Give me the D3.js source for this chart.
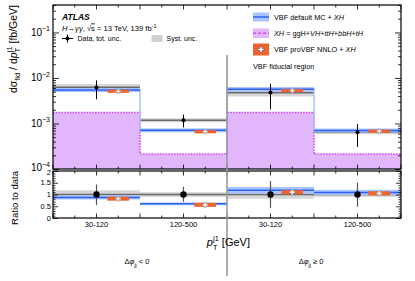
<!DOCTYPE html>
<html>
<head>
<meta charset="utf-8">
<script src="https://cdn.jsdelivr.net/npm/d3@7"></script>
<style>
body { margin: 0; background: #fff; }
text { font-family: "Liberation Sans", Arial, sans-serif; fill: #000; }
</style>
</head>
<body>
<svg id="chart" width="415" height="281"></svg>
<script>
// bins: pT(j1) ranges, two halves for dphi_jj < 0 and >= 0
var bins = ["30-120", "120-500", "30-120", "120-500"];
var dphiLabels = ["< 0", "\u2265 0"];

// measured cross sections [fb/GeV]
var dataVal  = [0.0062, 0.00118, 0.00477, 0.000645];
var dataUp   = [0.00886, 0.00157, 0.0075, 0.00097];
var dataDown = [0.0034, 0.00082, 0.00206, 0.000307];
var systRel  = [0.18, 0.10, 0.18, 0.10];

// predictions
var vbfDefault = [0.00544, 0.00071, 0.00563, 0.000703];
var vbfRel     = [0.10, 0.10, 0.12, 0.10];
var proVBF     = [0.0051, 0.00066, 0.00525, 0.000677];
var xhVal      = [0.00174, 0.000213, 0.00174, 0.000213];

var logTicks = [1e-4, 1e-3, 1e-2, 1e-1];
var logExp = ["\u22124", "\u22123", "\u22122", "\u22121"];
var ratioTicks = [0, 0.5, 1, 1.5, 2];

var svg = d3.select("#chart");

var x = d3.scaleLinear().domain([0, 4]).range([53, 401]);
var y = d3.scaleLog().domain([1e-4, 0.4]).range([169, 5]);
var yr = d3.scaleLinear().domain([0, 2]).range([218, 171]);

var blueDark = "#2b63f5", blueLight = "#a9c3ff";
var orange = "#f2622f", purpleFill = "#e2b6fb", purpleLine = "#c94cff";
var systCol = "#d6d6d6", dataLine = "#6a6a6a";

var idx = d3.range(bins.length);

// ---------- upper panel ----------
var upper = svg.append("g");

// XH background (filled histogram with dotted outline)
var stepPts = [];
idx.forEach(function (i) { stepPts.push([i, xhVal[i]]); stepPts.push([i + 1, xhVal[i]]); });
upper.append("path")
    .datum(stepPts)
    .attr("fill", purpleFill)
    .attr("d", d3.area().x(function (d) { return x(d[0]); }).y0(y(1e-4)).y1(function (d) { return y(d[1]); }));
upper.append("path")
    .datum(stepPts)
    .attr("fill", "none")
    .attr("stroke", purpleLine)
    .attr("stroke-width", 1.6)
    .attr("stroke-dasharray", "1.6,1.2")
    .attr("d", d3.line().x(function (d) { return x(d[0]); }).y(function (d) { return y(d[1]); }));

// syst band + data line
upper.selectAll(".syst").data(idx).enter().append("rect")
    .attr("x", function (i) { return x(i); })
    .attr("width", function (i) { return x(i + 1) - x(i); })
    .attr("y", function (i) { return y(dataVal[i] * (1 + systRel[i])); })
    .attr("height", function (i) { return y(dataVal[i] * (1 - systRel[i])) - y(dataVal[i] * (1 + systRel[i])); })
    .attr("fill", systCol);
upper.selectAll(".dline").data(idx).enter().append("line")
    .attr("x1", function (i) { return x(i); })
    .attr("x2", function (i) { return x(i + 1); })
    .attr("y1", function (i) { return y(dataVal[i]); })
    .attr("y2", function (i) { return y(dataVal[i]); })
    .attr("stroke", dataLine).attr("stroke-width", 1.6);

// VBF default band + step line
upper.selectAll(".vband").data(idx).enter().append("rect")
    .attr("x", function (i) { return x(i); })
    .attr("width", function (i) { return x(i + 1) - x(i); })
    .attr("y", function (i) { return y(vbfDefault[i] * (1 + vbfRel[i])); })
    .attr("height", function (i) { return y(vbfDefault[i] * (1 - vbfRel[i])) - y(vbfDefault[i] * (1 + vbfRel[i])); })
    .attr("fill", blueLight);
var vbfPts = [];
idx.forEach(function (i) { vbfPts.push([i, vbfDefault[i]]); vbfPts.push([i + 1, vbfDefault[i]]); });
upper.append("path").datum(vbfPts)
    .attr("fill", "none").attr("stroke", blueLight).attr("stroke-width", 1.5)
    .attr("d", d3.line().x(function (d) { return x(d[0]); }).y(function (d) { return y(d[1]); }));
upper.selectAll(".vline").data(idx).enter().append("line")
    .attr("x1", function (i) { return x(i); })
    .attr("x2", function (i) { return x(i + 1); })
    .attr("y1", function (i) { return y(vbfDefault[i]); })
    .attr("y2", function (i) { return y(vbfDefault[i]); })
    .attr("stroke", blueDark).attr("stroke-width", 1.5);

// proVBF
upper.selectAll(".pro").data(idx).enter().append("rect")
    .attr("x", function (i) { return x(i + 0.625); })
    .attr("width", function (i) { return x(i + 0.875) - x(i + 0.625); })
    .attr("y", function (i) { return y(proVBF[i]) - 1.6; })
    .attr("height", 3.2)
    .attr("fill", orange);
upper.selectAll(".prom").data(idx).enter().append("path")
    .attr("transform", function (i) { return "translate(" + x(i + 0.75) + "," + y(proVBF[i]) + ")"; })
    .attr("d", d3.symbol().type(d3.symbolCross).size(14))
    .attr("fill", "#fff").attr("stroke", "#888").attr("stroke-width", 0.5);

// data points
upper.selectAll(".err").data(idx).enter().append("line")
    .attr("x1", function (i) { return x(i + 0.5); })
    .attr("x2", function (i) { return x(i + 0.5); })
    .attr("y1", function (i) { return y(dataUp[i]); })
    .attr("y2", function (i) { return y(dataDown[i]); })
    .attr("stroke", "#000").attr("stroke-width", 1);
upper.selectAll(".pt").data(idx).enter().append("circle")
    .attr("cx", function (i) { return x(i + 0.5); })
    .attr("cy", function (i) { return y(dataVal[i]); })
    .attr("r", 2).attr("fill", "#000");

// ---------- ratio panel ----------
var lower = svg.append("g");
lower.selectAll(".rsyst").data(idx).enter().append("rect")
    .attr("x", function (i) { return x(i); })
    .attr("width", function (i) { return x(i + 1) - x(i); })
    .attr("y", function (i) { return yr(1 + systRel[i]); })
    .attr("height", function (i) { return yr(1 - systRel[i]) - yr(1 + systRel[i]); })
    .attr("fill", systCol);
lower.selectAll(".rdline").data(idx).enter().append("line")
    .attr("x1", function (i) { return x(i); })
    .attr("x2", function (i) { return x(i + 1); })
    .attr("y1", yr(1)).attr("y2", yr(1))
    .attr("stroke", dataLine).attr("stroke-width", 1.5);
lower.selectAll(".rvband").data(idx).enter().append("rect")
    .attr("x", function (i) { return x(i); })
    .attr("width", function (i) { return x(i + 1) - x(i); })
    .attr("y", function (i) { return yr(vbfDefault[i] / dataVal[i] * (1 + vbfRel[i])); })
    .attr("height", function (i) { return yr(vbfDefault[i] / dataVal[i] * (1 - vbfRel[i])) - yr(vbfDefault[i] / dataVal[i] * (1 + vbfRel[i])); })
    .attr("fill", blueLight);
lower.selectAll(".rvline").data(idx).enter().append("line")
    .attr("x1", function (i) { return x(i); })
    .attr("x2", function (i) { return x(i + 1); })
    .attr("y1", function (i) { return yr(vbfDefault[i] / dataVal[i]); })
    .attr("y2", function (i) { return yr(vbfDefault[i] / dataVal[i]); })
    .attr("stroke", blueDark).attr("stroke-width", 1.5);
lower.selectAll(".rpro").data(idx).enter().append("rect")
    .attr("x", function (i) { return x(i + 0.625); })
    .attr("width", function (i) { return x(i + 0.875) - x(i + 0.625); })
    .attr("y", function (i) { return yr(proVBF[i] / dataVal[i]) - 2; })
    .attr("height", 4)
    .attr("fill", orange);
lower.selectAll(".rprom").data(idx).enter().append("path")
    .attr("transform", function (i) { return "translate(" + x(i + 0.75) + "," + yr(proVBF[i] / dataVal[i]) + ")"; })
    .attr("d", d3.symbol().type(d3.symbolCross).size(16))
    .attr("fill", "#fff").attr("stroke", "#888").attr("stroke-width", 0.5);
lower.selectAll(".rerr").data(idx).enter().append("line")
    .attr("x1", function (i) { return x(i + 0.5); })
    .attr("x2", function (i) { return x(i + 0.5); })
    .attr("y1", function (i) { return yr(dataUp[i] / dataVal[i]); })
    .attr("y2", function (i) { return yr(dataDown[i] / dataVal[i]); })
    .attr("stroke", "#555").attr("stroke-width", 1.2);
lower.selectAll(".rpt").data(idx).enter().append("circle")
    .attr("cx", function (i) { return x(i + 0.5); })
    .attr("cy", yr(1))
    .attr("r", 3.2).attr("fill", "#000");

// ---------- axes / frames ----------
function xTicks(g, yPos, dir) {
    var major = [], minor = [];
    for (var k = 0; k <= 16; k++) {
        if (k % 2 == 0) major.push(k / 4); else minor.push(k / 4);
    }
    g.selectAll(null).data(major).enter().append("line")
        .attr("x1", function (d) { return x(d); }).attr("x2", function (d) { return x(d); })
        .attr("y1", yPos).attr("y2", yPos + dir * 4.5)
        .attr("stroke", "#000").attr("stroke-width", 0.8);
    g.selectAll(null).data(minor).enter().append("line")
        .attr("x1", function (d) { return x(d); }).attr("x2", function (d) { return x(d); })
        .attr("y1", yPos).attr("y2", yPos + dir * 2.5)
        .attr("stroke", "#000").attr("stroke-width", 0.8);
}
var axG = svg.append("g");
xTicks(axG, 5, 1); xTicks(axG, 169, -1);
xTicks(axG, 171, 1); xTicks(axG, 218, -1);

// log y ticks (left and right, inward)
var majorLog = logTicks, minorLog = [];
[1e-4, 1e-3, 1e-2, 1e-1].forEach(function (b) {
    for (var m = 2; m <= 9; m++) if (b * m <= 0.4) minorLog.push(b * m);
});
axG.append("g").attr("transform", "translate(53,0)")
    .call(d3.axisRight(y).tickValues(majorLog).tickSize(6).tickFormat(""));
axG.append("g").attr("transform", "translate(53,0)")
    .call(d3.axisRight(y).tickValues(minorLog).tickSize(3).tickFormat(""));
axG.append("g").attr("transform", "translate(401,0)")
    .call(d3.axisLeft(y).tickValues(majorLog).tickSize(6).tickFormat(""));
axG.append("g").attr("transform", "translate(401,0)")
    .call(d3.axisLeft(y).tickValues(minorLog).tickSize(3).tickFormat(""));

var ratioMinor = d3.range(0, 2.01, 0.1).filter(function (v) { return Math.abs(v * 2 - Math.round(v * 2)) > 0.01; });
axG.append("g").attr("transform", "translate(53,0)")
    .call(d3.axisRight(yr).tickValues(ratioTicks).tickSize(5).tickFormat(""));
axG.append("g").attr("transform", "translate(53,0)")
    .call(d3.axisRight(yr).tickValues(ratioMinor).tickSize(2.5).tickFormat(""));
axG.append("g").attr("transform", "translate(401,0)")
    .call(d3.axisLeft(yr).tickValues(ratioTicks).tickSize(5).tickFormat(""));
axG.append("g").attr("transform", "translate(401,0)")
    .call(d3.axisLeft(yr).tickValues(ratioMinor).tickSize(2.5).tickFormat(""));
axG.selectAll(".domain").remove();
axG.selectAll(".tick line").attr("stroke-width", 0.8);

// frames
svg.append("rect").attr("x", 53).attr("y", 5).attr("width", 348).attr("height", 164)
    .attr("fill", "none").attr("stroke", "#000").attr("stroke-width", 1.2);
svg.append("rect").attr("x", 53).attr("y", 171).attr("width", 348).attr("height", 47)
    .attr("fill", "none").attr("stroke", "#000").attr("stroke-width", 1.2);

// separator line between dphi regions
svg.append("line").attr("x1", x(2)).attr("x2", x(2)).attr("y1", 55).attr("y2", 276)
    .attr("stroke", "#9a9a9a").attr("stroke-width", 1.6);

// y tick labels
logTicks.forEach(function (v, k) {
    var t = svg.append("text").attr("x", 50).attr("y", y(v) + 3.5 - (k == 0 ? 1.5 : 0))
        .attr("text-anchor", "end").attr("font-size", 10);
    t.append("tspan").text("10");
    t.append("tspan").attr("dy", -4.5).attr("font-size", 7).text(logExp[k]);
});
ratioTicks.forEach(function (v) {
    svg.append("text").attr("x", 51).attr("y", yr(v) + 2.6 + (v == 2 ? 1 : 0))
        .attr("text-anchor", "end").attr("font-size", 7.5).text(v);
});

// x tick labels
idx.forEach(function (i) {
    svg.append("text").attr("x", x(i + 0.5)).attr("y", 227)
        .attr("text-anchor", "middle").attr("font-size", 7.5).text(bins[i]);
});

// axis titles
var xt = svg.append("text").attr("x", 250).attr("y", 246).attr("text-anchor", "end").attr("font-size", 11);
xt.append("tspan").attr("font-style", "italic").text("p");
xt.append("tspan").attr("font-size", 7.5).attr("dy", 3.5).text("T");
xt.append("tspan").attr("font-size", 7.5).attr("dx", -4.5).attr("dy", -9).text("j1");
xt.append("tspan").attr("dy", 5.5).text("  [GeV]");

var yt = svg.append("text").attr("transform", "translate(17,5) rotate(-90)")
    .attr("text-anchor", "end").attr("font-size", 10.5);
yt.append("tspan").text("d\u03c3");
yt.append("tspan").attr("font-size", 7.5).attr("dy", 3).text("fid");
yt.append("tspan").attr("dy", -3).text(" / d");
yt.append("tspan").attr("font-style", "italic").text("p");
yt.append("tspan").attr("font-size", 7.5).attr("dy", 3).text("T");
yt.append("tspan").attr("font-size", 7.5).attr("dx", -4.5).attr("dy", -8.5).text("j1");
yt.append("tspan").attr("dy", 5.5).text(" [fb/GeV]");

svg.append("text").attr("transform", "translate(18,171) rotate(-90)")
    .attr("text-anchor", "end").attr("font-size", 9.5).text("Ratio to data");

// dphi region labels
dphiLabels.forEach(function (lab, k) {
    var t = svg.append("text").attr("x", x(2 * k + 1) - 3).attr("y", 264)
        .attr("text-anchor", "middle").attr("font-size", 7.5);
    t.append("tspan").text("\u0394");
    t.append("tspan").attr("font-style", "italic").text("\u03c6");
    t.append("tspan").attr("font-size", 5).attr("dy", 3).text("jj");
    t.append("tspan").attr("dy", -3).text(" " + lab);
});

// ---------- legend ----------
var lg = svg.append("g");
lg.append("text").attr("x", 62).attr("y", 19.5).attr("font-size", 8.5)
    .attr("font-weight", "bold").attr("font-style", "italic").text("ATLAS");
var l2 = lg.append("text").attr("x", 62).attr("y", 30.5).attr("font-size", 7.6);
l2.append("tspan").attr("font-style", "italic").text("H");
l2.append("tspan").text("\u2192");
l2.append("tspan").attr("font-style", "italic").text("\u03b3\u03b3");
l2.append("tspan").text(", \u221a");
l2.append("tspan").style("text-decoration", "overline").text("s");
l2.append("tspan").text(" = 13 TeV, 139 fb");
l2.append("tspan").attr("font-size", 5.5).attr("dy", -3).text("-1");

lg.append("line").attr("x1", 62).attr("x2", 73).attr("y1", 38.5).attr("y2", 38.5).attr("stroke", "#000");
lg.append("line").attr("x1", 67.5).attr("x2", 67.5).attr("y1", 34.5).attr("y2", 42.5).attr("stroke", "#000");
lg.append("circle").attr("cx", 67.5).attr("cy", 38.5).attr("r", 2).attr("fill", "#000");
lg.append("text").attr("x", 77.5).attr("y", 41).attr("font-size", 7).text("Data, tot. unc.");
lg.append("rect").attr("x", 151.5).attr("y", 35).attr("width", 11).attr("height", 7).attr("fill", "#cfcfcf");
lg.append("text").attr("x", 166.5).attr("y", 41).attr("font-size", 7).text("Syst. unc.");

lg.append("rect").attr("x", 253).attr("y", 12.5).attr("width", 16).attr("height", 9).attr("fill", blueLight);
lg.append("line").attr("x1", 253).attr("x2", 269).attr("y1", 17).attr("y2", 17).attr("stroke", blueDark).attr("stroke-width", 1.5);
var t1 = lg.append("text").attr("x", 274).attr("y", 19.8).attr("font-size", 7.3);
t1.append("tspan").text("VBF default MC + ");
t1.append("tspan").attr("font-style", "italic").text("XH");

lg.append("rect").attr("x", 253).attr("y", 28.5).attr("width", 16).attr("height", 9.5).attr("fill", purpleFill);
lg.append("line").attr("x1", 253).attr("x2", 269).attr("y1", 33.3).attr("y2", 33.3)
    .attr("stroke", purpleLine).attr("stroke-width", 1.4).attr("stroke-dasharray", "3,2");
var t2 = lg.append("text").attr("x", 274).attr("y", 35.8).attr("font-size", 7.3);
t2.append("tspan").attr("font-style", "italic").text("XH");
t2.append("tspan").text(" = ggH+");
t2.append("tspan").attr("font-style", "italic").text("VH");
t2.append("tspan").text("+");
t2.append("tspan").attr("font-style", "italic").text("ttH");
t2.append("tspan").text("+");
t2.append("tspan").attr("font-style", "italic").text("bbH");
t2.append("tspan").text("+");
t2.append("tspan").attr("font-style", "italic").text("tH");

lg.append("rect").attr("x", 253).attr("y", 43.5).attr("width", 16).attr("height", 12).attr("fill", orange);
lg.append("path").attr("transform", "translate(261,49.5)")
    .attr("d", d3.symbol().type(d3.symbolCross).size(20))
    .attr("fill", "#fff").attr("stroke", "#555").attr("stroke-width", 0.6);
var t3 = lg.append("text").attr("x", 274).attr("y", 52).attr("font-size", 7.3);
t3.append("tspan").text("VBF proVBF NNLO + ");
t3.append("tspan").attr("font-style", "italic").text("XH");

lg.append("text").attr("x", 253).attr("y", 69.3).attr("font-size", 7.3).text("VBF fiducial region");
</script>
</body>
</html>
